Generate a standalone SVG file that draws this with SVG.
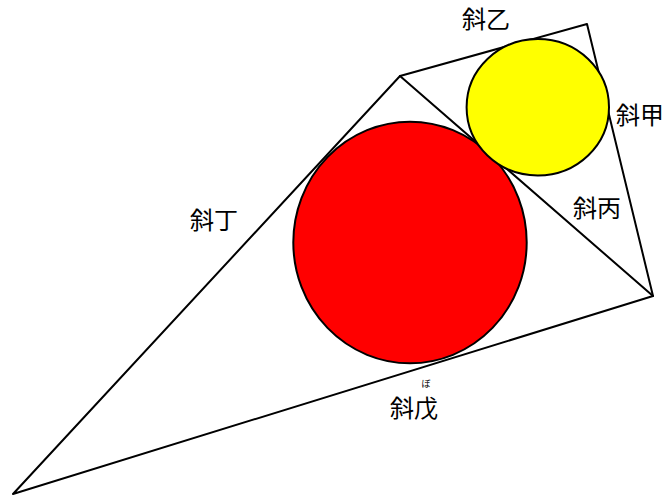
<svg xmlns="http://www.w3.org/2000/svg" width="665" height="495" viewBox="0 0 665 495">
<style>
.ln{stroke:#000;stroke-width:2;fill:none;stroke-linecap:round;stroke-linejoin:round}
.c{stroke:#000;stroke-width:2}
.t{font-family:"Noto Sans CJK JP","Noto Sans CJK SC",sans-serif;font-size:24px;fill:#000;text-anchor:middle;dominant-baseline:central}
.r{font-family:"Noto Sans CJK JP","Noto Sans CJK SC",sans-serif;font-size:9px;fill:#000;text-anchor:middle;dominant-baseline:central}
</style>
<rect width="665" height="495" fill="#fff"/>
<g id="connectors">
<polyline class="ln" points="13,494 400,76 587,24 653,296 13,494"/>
<line class="ln" x1="400" y1="76" x2="653" y2="296"/>
</g>
<g id="red">
<ellipse class="c" cx="410" cy="242.5" rx="116.7" ry="120.8" fill="#ff0000"/>
</g>
<g id="yellow">
<ellipse class="c" cx="537.8" cy="107.2" rx="71.2" ry="68.2" fill="#ffff00"/>
</g>
<g id="labels">
<text class="t" x="486" y="17">斜乙</text>
<text class="t" x="640" y="113">斜甲</text>
<text class="t" x="597" y="206">斜丙</text>
<text class="t" x="214" y="218">斜丁</text>
<text class="t" x="414" y="406">斜戊</text>
<text class="r" x="426" y="383">ぼ</text>
</g>
</svg>
